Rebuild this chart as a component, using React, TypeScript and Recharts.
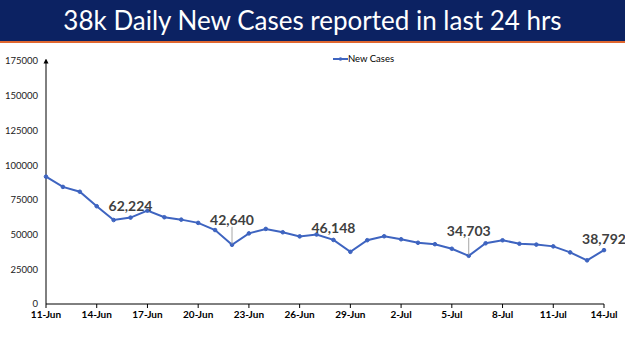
import { CartesianGrid, LabelList, Line, LineChart, XAxis, YAxis } from 'recharts';

const dates = [
    '11-Jun', '12-Jun', '13-Jun', '14-Jun', '15-Jun', '16-Jun', '17-Jun', '18-Jun', '19-Jun', '20-Jun',
    '21-Jun', '22-Jun', '23-Jun', '24-Jun', '25-Jun', '26-Jun', '27-Jun', '28-Jun', '29-Jun', '30-Jun',
    '1-Jul', '2-Jul', '3-Jul', '4-Jul', '5-Jul', '6-Jul', '7-Jul', '8-Jul', '9-Jul', '10-Jul',
    '11-Jul', '12-Jul', '13-Jul', '14-Jul',
];
const newCases = [
    91702, 84332, 80834, 70421, 60471, 62224, 67208, 62480, 60753, 58419,
    53256, 42640, 50848, 54069, 51667, 48698, 50040, 46148, 37566, 45951,
    48786, 46617, 44111, 43071, 39796, 34703, 43733, 45892, 43393, 42766,
    41506, 37154, 31443, 38792,
];
const yTicks = [0, 25000, 50000, 75000, 100000, 125000, 150000, 175000];
const labelledDates = ['16-Jun', '22-Jun', '28-Jun', '6-Jul', '14-Jul'];
const leaderDates = ['22-Jun', '6-Jul'];

const data = dates.map((date, i) => ({ date, cases: newCases[i] }));

const font = 'Lato, "Open Sans", sans-serif';
const blue = '#3e64c0';

const CalloutLabel = (props: any) => {
    const { x, y, value, index } = props;
    const date = dates[index];
    if (!labelledDates.includes(date)) return null;
    const leader = leaderDates.includes(date);
    const lift = leader ? 25 : 12;
    return (
        <g>
            {leader && <line x1={x} y1={y - 18} x2={x} y2={y - 1} stroke='#a6a6a6' strokeWidth={1} />}
            <text
                x={x}
                y={y - lift}
                textAnchor='middle'
                dominantBaseline='central'
                fontFamily={font}
                fontWeight={700}
                fontSize={14}
                fill='#404040'
            >
                {Number(value).toLocaleString('en-US')}
            </text>
        </g>
    );
};

export default function App() {
    return (
        <div style={{ position: 'absolute', left: 0, top: 0, width: 625, height: 351, background: '#fff' }}>
            <div
                style={{
                    height: 41,
                    background: '#0c2262',
                    borderBottom: '2px solid #e0672f',
                    color: '#fff',
                    fontFamily: font,
                    fontSize: 26,
                    lineHeight: '41px',
                    textAlign: 'center',
                }}
            >
                38k Daily New Cases reported in last 24 hrs
            </div>
            <div
                style={{
                    position: 'absolute',
                    left: 333,
                    top: 53,
                    display: 'flex',
                    alignItems: 'center',
                    fontFamily: font,
                    fontSize: 9.5,
                    color: '#000',
                }}
            >
                <svg width={15} height={8}>
                    <line x1={0} y1={4} x2={15} y2={4} stroke={blue} strokeWidth={2} />
                    <circle cx={7.5} cy={4} r={1.8} fill={blue} />
                </svg>
                <span>New Cases</span>
            </div>
            <div style={{ position: 'absolute', left: 0, top: 0 }}>
                <LineChart width={625} height={351} data={data} margin={{ top: 61, right: 21, bottom: 17, left: 6 }}>
                    <defs>
                        <marker id='arrow' viewBox='0 0 10 10' refX='5' refY='5' markerWidth='5' markerHeight='6' orient='auto-start-reverse'>
                            <path d='M0,0 L10,5 L0,10 z' fill='#000' />
                        </marker>
                    </defs>
                    <CartesianGrid stroke='none' />
                    <XAxis
                        dataKey='date'
                        interval={2}
                        tickSize={4}
                        tickMargin={3}
                        axisLine={{ stroke: '#000' }}
                        tickLine={{ stroke: '#000' }}
                        tick={{ fontFamily: font, fontSize: 10, fontWeight: 700, fill: '#000' }}
                    />
                    <YAxis
                        width={40}
                        domain={[0, 175000]}
                        ticks={yTicks}
                        tickLine={false}
                        axisLine={{ stroke: '#000', markerStart: 'url(#arrow)' }}
                        tick={{ fontFamily: font, fontSize: 9.5, fill: '#222' }}
                    />
                    <Line
                        type='linear'
                        dataKey='cases'
                        name='New Cases'
                        stroke={blue}
                        strokeWidth={2}
                        dot={{ r: 1.8, fill: blue, stroke: blue, strokeWidth: 1 }}
                        isAnimationActive={false}
                    >
                        <LabelList dataKey='cases' content={<CalloutLabel />} />
                    </Line>
                </LineChart>
            </div>
        </div>
    );
}
